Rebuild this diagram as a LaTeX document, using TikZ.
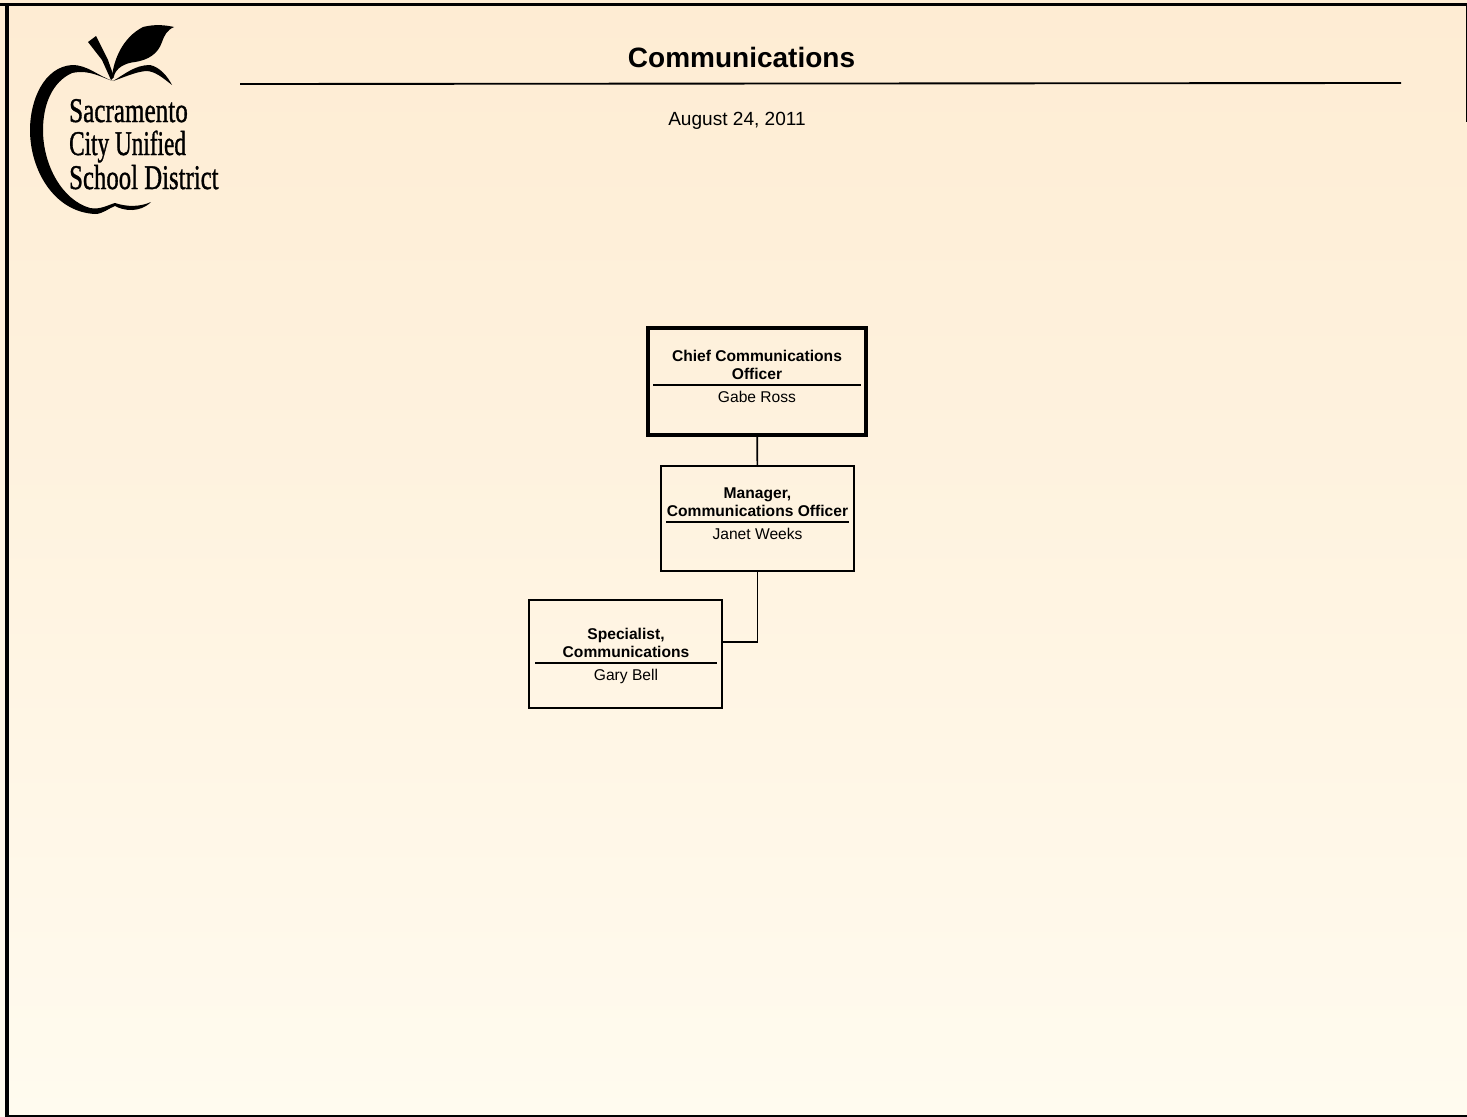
\documentclass[tikz,border=0pt]{standalone}
\usepackage{fontspec}
\setmainfont{Liberation Sans}
\newfontfamily\logofont[RawFeature={embolden=1.2}]{Liberation Serif}
\definecolor{pagetop}{RGB}{254,236,211}
\definecolor{pagebottom}{RGB}{255,251,239}
\tikzset{
  posbox/.style={draw=black,line width=1.2pt,minimum width=144.75pt,inner sep=0pt},
  bossbox/.style={posbox,line width=3pt,minimum width=164pt},
  posttitle/.style={anchor=base,inner sep=0pt,align=center,font=\fontsize{11.7}{13.5}\selectfont\bfseries},
  postname/.style={anchor=base,inner sep=0pt,font=\fontsize{11.7}{13.5}\selectfont},
  postrule/.style={line width=1.3pt},
  logotext/.style={anchor=base west,inner sep=0pt,font=\fontsize{26}{26}\logofont},
  postlink/.style={line width=1.2pt},
}
\begin{document}
\begin{tikzpicture}[x=0.75pt,y=0.75pt,yscale=-1,xscale=1]
\useasboundingbox (0,0) rectangle (1467,1117);

%Shape: Page [id:page]
\fill [top color=pagetop,bottom color=pagebottom] (0,0) rectangle (1467,1117);
%Straight Lines [id:frame]
\draw [line width=2.2pt] (0,4.5) -- (1467,4.5);
\draw [line width=3pt] (6.5,3) -- (6.5,1117);
\draw [line width=1.5pt] (6.5,1115.5) -- (1467,1115.5);
\draw [line width=1.2pt] (1466.5,3) -- (1466.5,46);
\draw [line width=0.5pt] (1466.5,46) -- (1466.5,122);
%Straight Lines [id:titlerule]
\draw [line width=1.4pt] (240,84) -- (1401,83);

%Shape: Apple body
\fill (113,81) .. controls (98,76) and (88,65) .. (72,65) .. controls (44,67) and (30,100) .. (30,130) .. controls (30,170) and (54,212) .. (95,214) .. controls (103,214) and (109,208) .. (115,206) .. controls (124,211) and (140,213) .. (151,202) .. controls (140,207) and (127,207) .. (115,203) .. controls (108,205) and (100,210) .. (90,208) .. controls (62,200) and (43,165) .. (43,130) .. controls (43,105) and (52,82) .. (72,73) .. controls (90,69) and (102,78) .. (113,81) -- cycle;
%Shape: Apple right lobe
\fill (113,81) .. controls (125,74) and (135,65) .. (150,65) .. controls (160,67) and (168,77) .. (172,85) .. controls (163,78) and (155,71) .. (146,71) .. controls (135,72) and (125,77) .. (113,81) -- cycle;
%Shape: Stem
\fill (88,42) -- (96,36) -- (108,60) -- (114,77) -- (111,80) -- (102,60) -- cycle;
%Shape: Leaf
\fill (112,76) .. controls (114,60) and (122,38) .. (143,27) .. controls (155,24) and (165,25) .. (174,27) .. controls (167,30) and (164,36) .. (162,42) .. controls (158,54) and (148,60) .. (135,62) .. controls (125,63) and (116,68) .. (114,76) -- cycle;

% Text Node
\draw (69,122) node [logotext,xscale=0.725] (logoa) {Sacramento};
% Text Node
\draw (69,155) node [logotext,xscale=0.67] (logob) {City Unified};
% Text Node
\draw (69,189) node [logotext,xscale=0.715] (logoc) {School District};
% Text Node
\draw (741.5,67) node [anchor=base,inner sep=0pt,font=\fontsize{21}{21}\selectfont\bfseries] (pagetitle) {Communications};
% Text Node
\draw (737,125.5) node [anchor=base,inner sep=0pt,font=\fontsize{14.3}{14.3}\selectfont] (pagedate) {August 24, 2011};

%Shape: Boxes
\node [bossbox,minimum height=80pt] (chief) at (757,381.5) {};
\node [posbox,minimum height=78.75pt] (manager) at (757.5,518.5) {};
\node [posbox,minimum height=81pt] (specialist) at (625.5,654) {};

% Text Node
\draw (757,379) node [posttitle] (chieftitle) {Chief Communications\\Officer};
% Text Node
\draw (757,402) node [postname] (chiefname) {Gabe Ross};
% Text Node
\draw (757.5,516) node [posttitle] (managertitle) {Manager,\\Communications Officer};
% Text Node
\draw (757.5,539) node [postname] (managername) {Janet Weeks};
% Text Node
\draw (626,657) node [posttitle] (specialisttitle) {Specialist,\\Communications};
% Text Node
\draw (626,680) node [postname] (specialistname) {Gary Bell};

%Straight Lines
\draw [postrule] (653,385) -- (861,385);
\draw [postrule] (666,522) -- (849,522);
\draw [postrule] (535,663) -- (717,663);

%Connectors
\coordinate (specialistjoin) at (specialist.east |- 0,641.8);
\draw [postlink] (chief) -- (manager);
\draw [postlink] (manager.south) |- (specialistjoin);

\end{tikzpicture}
\end{document}
